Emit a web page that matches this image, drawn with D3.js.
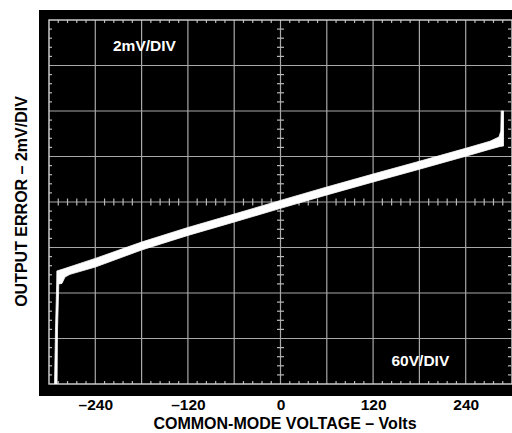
<!DOCTYPE html>
<html>
<head>
<meta charset="utf-8">
<script src="https://cdn.jsdelivr.net/npm/d3@7"></script>
<style>
  body { margin: 0; background: #fff; }
  svg { display: block; font-family: 'Liberation Sans', Arial, sans-serif; font-weight: bold; }
</style>
</head>
<body>
<svg width="512" height="433"></svg>
<script>
// x: common-mode voltage (V), y: output error (mV)
const voltTicks = [-240, -120, 0, 120, 240]
const voltLabels = ['–240', '–120', '0', '120', '240']

// trace outline: upper edge left->right, lower edge right->left
const upperV  = [-292.9, -291.6, -290.0, -289.8, -281.9, -259.8, -240, -180, -120, -60, 0, 60, 120, 180, 240, 271.5, 283.2, 285.5, 286.0, 289.0]
const upperMv = [-8.2, -5.63, -3.56, -3.03, -2.95, -2.70, -2.48, -1.76, -1.12, -0.53, 0.07, 0.66, 1.23, 1.79, 2.36, 2.67, 2.86, 3.12, 4.0, 4.0]
const lowerV  = [289.0, 284.5, 271.5, 240, 180, 120, 60, 0, -60, -120, -180, -240, -272.8, -279.3, -283.2, -287.3, -289.0, -289.6]
const lowerMv = [2.46, 2.44, 2.32, 2.01, 1.44, 0.88, 0.31, -0.28, -0.88, -1.47, -2.11, -2.86, -3.18, -3.30, -3.58, -3.60, -5.63, -8.2]

const padLeft = 49, padRight = 512, padTop = 20, padBottom = 384

const svg = d3.select('svg')

const xScale = d3.scaleLinear().domain([-300, 300]).range([padLeft, padRight])
const yScale = d3.scaleLinear().domain([-8, 8]).range([padBottom, padTop])

// black screen
svg.append('rect')
    .attr('x', 39).attr('y', 10)
    .attr('width', 512 - 39).attr('height', 396 - 10)
    .attr('fill', '#000')

const grid = svg.append('g').attr('stroke', '#a8a8a8').attr('stroke-width', 1.2)

grid.selectAll('.vgrid')
    .data(d3.range(-240, 300, 60))
    .enter().append('line')
    .attr('x1', d => xScale(d)).attr('x2', d => xScale(d))
    .attr('y1', padTop).attr('y2', padBottom)

grid.selectAll('.hgrid')
    .data(d3.range(-6, 8, 2))
    .enter().append('line')
    .attr('y1', d => yScale(d)).attr('y2', d => yScale(d))
    .attr('x1', padLeft).attr('x2', padRight)

// minor ticks, 5 per division
const minorV = d3.range(-25, 26).filter(i => i % 5 !== 0).map(i => i * 12)
const minorMv = d3.range(-20, 21).filter(i => i % 5 !== 0).map(i => i * 0.4)

const ticks = svg.append('g').attr('stroke', '#b8b8b8').attr('stroke-width', 1.2)

// center cross ticks
ticks.selectAll('.cx')
    .data(minorV).enter().append('line')
    .attr('x1', d => xScale(d)).attr('x2', d => xScale(d))
    .attr('y1', yScale(0) - 3.5).attr('y2', yScale(0) + 3.5)
ticks.selectAll('.cy')
    .data(minorMv).enter().append('line')
    .attr('y1', d => yScale(d)).attr('y2', d => yScale(d))
    .attr('x1', xScale(0) - 3.5).attr('x2', xScale(0) + 3.5)

// edge ticks
ticks.selectAll('.tt')
    .data(minorV).enter().append('line')
    .attr('x1', d => xScale(d)).attr('x2', d => xScale(d))
    .attr('y1', padTop).attr('y2', padTop + 3)
ticks.selectAll('.bt')
    .data(minorV).enter().append('line')
    .attr('x1', d => xScale(d)).attr('x2', d => xScale(d))
    .attr('y1', padBottom).attr('y2', padBottom - 3)
ticks.selectAll('.lt')
    .data(minorMv).enter().append('line')
    .attr('y1', d => yScale(d)).attr('y2', d => yScale(d))
    .attr('x1', padLeft).attr('x2', padLeft + 3)
ticks.selectAll('.rt')
    .data(minorMv).enter().append('line')
    .attr('y1', d => yScale(d)).attr('y2', d => yScale(d))
    .attr('x1', padRight - 4).attr('x2', padRight - 1)

// frame
svg.append('rect')
    .attr('x', padLeft).attr('y', padTop)
    .attr('width', padRight - padLeft).attr('height', padBottom - padTop)
    .attr('fill', 'none')
    .attr('stroke', '#d8d8d8')
    .attr('stroke-width', 1.4)

// trace
svg.append('clipPath').attr('id', 'screen')
    .append('rect')
    .attr('x', padLeft).attr('y', padTop)
    .attr('width', padRight - padLeft).attr('height', padBottom - padTop)

const outline = upperV.map((v, i) => [v, upperMv[i]])
    .concat(lowerV.map((v, i) => [v, lowerMv[i]]))

const traceLine = d3.line()
    .x(d => xScale(d[0]))
    .y(d => yScale(d[1]))

svg.append('path')
    .attr('d', traceLine(outline) + 'Z')
    .attr('clip-path', 'url(#screen)')
    .attr('fill', '#fff')
    .attr('stroke', '#fff')
    .attr('stroke-width', 0.8)
    .attr('stroke-linejoin', 'round')

// screen labels
svg.append('text')
    .attr('x', 113).attr('y', 51)
    .attr('fill', '#fff').attr('font-size', 15.5)
    .text('2mV/DIV')
svg.append('text')
    .attr('x', 391.5).attr('y', 366)
    .attr('fill', '#fff').attr('font-size', 15.5)
    .text('60V/DIV')

// x tick labels
const xAxis = d3.axisBottom(xScale)
    .tickValues(voltTicks)
    .tickFormat((d, i) => voltLabels[i])
    .tickSize(0)
    .tickPadding(0)

const axisBottom = svg.append('g')
    .attr('transform', 'translate(0,' + 399 + ')')
    .call(xAxis)
axisBottom.select('.domain').remove()
axisBottom.selectAll('text')
    .attr('font-family', "'Liberation Sans', Arial, sans-serif")
    .attr('font-weight', 'bold')
    .attr('font-size', 15.5)
    .attr('fill', '#000')
    .attr('dy', '0.71em')

// axis titles
svg.append('text')
    .attr('x', 285).attr('y', 429)
    .attr('text-anchor', 'middle')
    .attr('font-size', 16)
    .text('COMMON-MODE VOLTAGE – Volts')

svg.append('text')
    .attr('transform', 'translate(27,201.5) rotate(-90)')
    .attr('text-anchor', 'middle')
    .attr('font-size', 16)
    .text('OUTPUT ERROR – 2mV/DIV')
</script>
</body>
</html>
